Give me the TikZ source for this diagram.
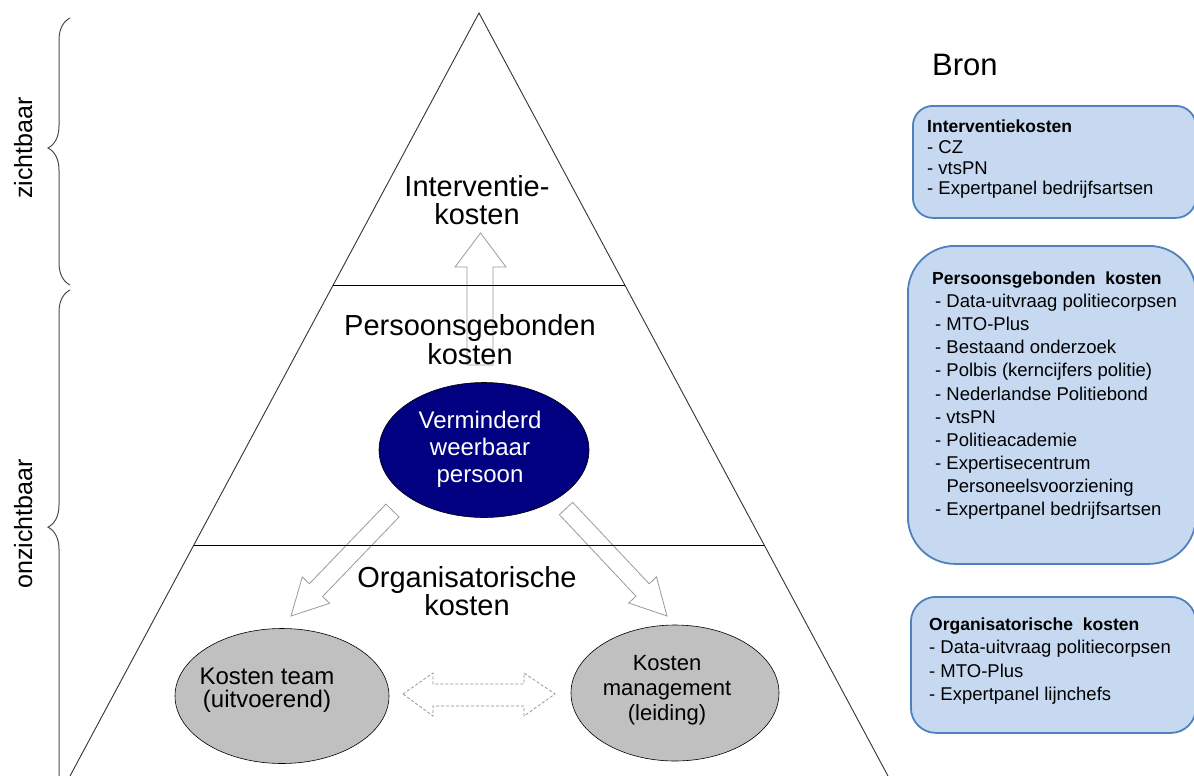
\documentclass[tikz,border=0pt]{standalone}
\usepackage{fontspec}
\setmainfont{Liberation Sans}
\usetikzlibrary{decorations.pathreplacing,calc,shapes.geometric}
\definecolor{boxfill}{RGB}{198,217,241}
\definecolor{boxborder}{RGB}{79,129,189}
\definecolor{navyfill}{RGB}{0,0,128}
\definecolor{ellgray}{RGB}{192,192,192}
\newcommand{\boxtitle}[1]{{\fontsize{17.5}{17.5}\selectfont\textbf{#1}}}
\begin{document}
\begin{tikzpicture}[x=1pt,y=-1pt,
  tri/.style={draw=black!80, line width=0.9pt},
  divider/.style={draw=black, line width=0.9pt},
  blockarrow/.style={draw=black!40, line width=0.8pt, line join=miter},
  dasharrow/.style={draw=black!45, dash pattern=on 3pt off 2pt, line width=0.7pt},
  bigtext/.style={font=\fontsize{29}{28}\selectfont, align=center, inner sep=0pt, anchor=base},
  bracestyle/.style={draw=black!70, line width=1pt, decorate},
  sidetext/.style={font=\fontsize{25}{25}\selectfont, rotate=90, anchor=base, inner sep=0pt},
  srcbox/.style={draw=boxborder, fill=boxfill, line width=1.8pt, rectangle, anchor=north west, inner sep=0pt},
  srctext/.style={align=left, anchor=base west, inner sep=0pt},
  ell/.style={ellipse, draw=black, line width=0.6pt, inner sep=0pt},
]
\useasboundingbox (0,0) rectangle (1194,776);

% pyramid
\coordinate (apex) at (479,13);
\coordinate (bl) at (70,776);
\coordinate (br) at (888,776);
\draw[tri] (bl) -- (apex) -- (br);
\coordinate (d1l) at ($(apex)!0.3565!(bl)$);
\coordinate (d1r) at ($(apex)!0.3565!(br)$);
\coordinate (d2l) at ($(apex)!0.6972!(bl)$);
\coordinate (d2r) at ($(apex)!0.6972!(br)$);

% block arrows
\draw[blockarrow] (467,365) -- (467,267) -- (455,267) -- (480.5,233) -- (506,267) -- (493,267) -- (493,365) -- cycle;
\draw[blockarrow] (399.1,516.9) -- (322.6,596.5) -- (329.7,603.3) -- (291,616) -- (302.3,576.9) -- (309.4,583.7) -- (385.9,504.1) -- cycle;
\draw[blockarrow] (572.6,502.3) -- (649.2,583.8) -- (656.5,577) -- (667,616) -- (628.7,603) -- (636,596.2) -- (559.4,514.7) -- cycle;
\draw[dasharrow] (403,694) -- (433,673) -- (433,684) -- (524,684) -- (524,673) -- (555,694) -- (524,716) -- (524,706) -- (433,706) -- (433,716) -- cycle;

\draw[divider] (d1l) -- (d1r);
\draw[divider] (d2l) -- (d2r);

% ellipses
\node[ell, fill=navyfill, minimum width=210pt, minimum height=135pt] (verm) at (484,450) {};
\node[ell, fill=ellgray, minimum width=214pt, minimum height=135pt] (team) at (282,696) {};
\node[ell, fill=ellgray, minimum width=208pt, minimum height=136pt] (mgmt) at (675,693) {};

% (anchor=base of a multi-line node = baseline of its last line)
\node[font=\fontsize{24}{27}\selectfont, text=white, align=center, anchor=base, inner sep=0pt] (vermtext) at (480,482) {Verminderd\\weerbaar\\persoon};
\node[font=\fontsize{24}{23}\selectfont, align=center, anchor=base, inner sep=0pt] (teamtext) at (267,707) {Kosten team\\(uitvoerend)};
\node[font=\fontsize{22}{25}\selectfont, align=center, anchor=base, inner sep=0pt] (mgmttext) at (667,720) {Kosten\\management\\(leiding)};

% layer labels
\node[bigtext] (interv) at (477,224) {Interventie-\\kosten};
\node[bigtext, font=\fontsize{29}{25}\selectfont] (pers) at (470,364) {Persoonsgebonden\\kosten};
\node[bigtext] (org) at (467,615) {Organisatorische\\kosten};

% braces and side labels
\draw[bracestyle, decoration={brace, amplitude=22pt, aspect=0.513}] (70,285) -- (70,18);
\draw[bracestyle, decoration={brace, amplitude=22pt, aspect=0.535}] (70,800) -- (70,290);
\node[sidetext] (zicht) at (32,148) {zichtbaar};
\node[sidetext] (onzicht) at (32,524) {onzichtbaar};

% sources
\node[anchor=base west, inner sep=0pt, font=\fontsize{31}{31}\selectfont] (bron) at (932,76) {Bron};
\node[srcbox, rounded corners=20pt, minimum width=283pt, minimum height=112pt] (box1) at (912,105) {};
\node[srcbox, rounded corners=47pt, minimum width=288pt, minimum height=318pt] (box2) at (907,245) {};
\node[srcbox, rounded corners=25pt, minimum width=285pt, minimum height=136pt] (box3) at (910,596) {};

\node[srctext, font=\fontsize{18.5}{20.8}\selectfont] (t1) at (927,194.9) {\boxtitle{Interventiekosten}\\- CZ\\- vtsPN\\- Expertpanel bedrijfsartsen};
\node[srctext, font=\fontsize{18.5}{23.1}\selectfont] (t2) at (932,515.5) {\boxtitle{Persoonsgebonden\ \ kosten}\\
\hspace*{3pt}- Data-uitvraag politiecorpsen\\
\hspace*{3pt}- MTO-Plus\\
\hspace*{3pt}- Bestaand onderzoek\\
\hspace*{3pt}- Polbis (kerncijfers politie)\\
\hspace*{3pt}- Nederlandse Politiebond\\
\hspace*{3pt}- vtsPN\\
\hspace*{3pt}- Politieacademie\\
\hspace*{3pt}- Expertisecentrum\\
\hspace*{3pt}\phantom{- }Personeelsvoorziening\\
\hspace*{3pt}- Expertpanel bedrijfsartsen};
\node[srctext, font=\fontsize{18.5}{23.3}\selectfont] (t3) at (929,700.4) {\boxtitle{Organisatorische\ \ kosten}\\- Data-uitvraag politiecorpsen\\- MTO-Plus\\- Expertpanel lijnchefs};
\end{tikzpicture}
\end{document}
